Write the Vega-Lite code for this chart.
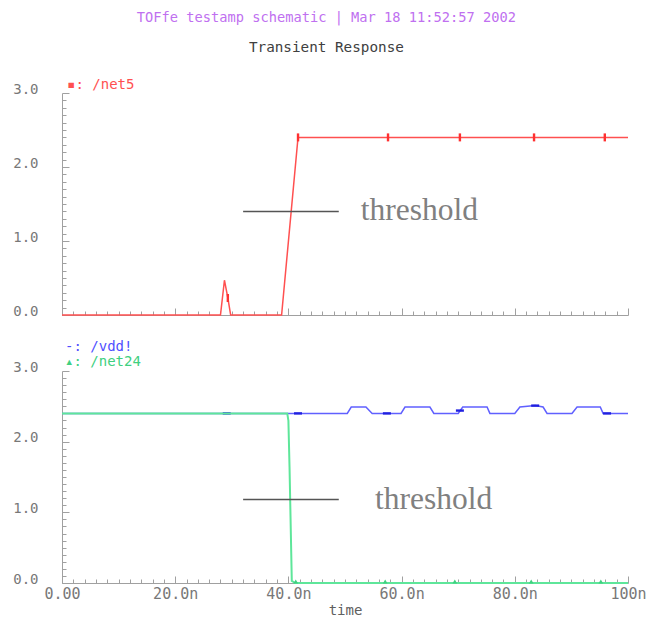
{
  "$schema": "https://vega.github.io/schema/vega-lite/v6.json",
  "background": "white",
  "padding": {"left": 12, "top": 11, "right": 5, "bottom": 2},
  "config": {
    "view": {"stroke": null},
    "axis": {
      "grid": false,
      "domainColor": "#a0a0a0",
      "tickColor": "#a0a0a0",
      "labelColor": "#787878",
      "labelFont": "DejaVu Sans Mono",
      "labelFontSize": 14,
      "labelOverlap": false,
      "labelBound": false,
      "labelFlush": false,
      "titleFont": "DejaVu Sans Mono",
      "titleFontWeight": "normal",
      "titleFontSize": 14,
      "titleColor": "#606060"
    }
  },
  "title": {
    "text": "TOFfe testamp schematic | Mar 18 11:52:57 2002",
    "subtitle": "Transient Response",
    "color": "#c070f0",
    "font": "DejaVu Sans Mono",
    "fontSize": 13.7,
    "fontWeight": "normal",
    "subtitleFont": "DejaVu Sans Mono",
    "subtitleFontSize": 14.3,
    "subtitleColor": "#404040",
    "subtitlePadding": 16,
    "anchor": "middle",
    "dx": -3,
    "offset": 23
  },
  "datasets": {
    "net5": [
      {"t": 0, "v": 0}, {"t": 28.0, "v": 0}, {"t": 28.7, "v": 0.47}, {"t": 29.3, "v": 0.23},
      {"t": 29.8, "v": 0}, {"t": 38.8, "v": 0}, {"t": 41.7, "v": 2.4}, {"t": 100, "v": 2.4}
    ],
    "net5_marks": [
      {"t": 29.3, "v": 0.23}, {"t": 41.7, "v": 2.4}, {"t": 57.6, "v": 2.4},
      {"t": 70.3, "v": 2.4}, {"t": 83.4, "v": 2.4}, {"t": 95.9, "v": 2.4}
    ],
    "vdd": [
      {"t": 0, "v": 2.4}, {"t": 50.4, "v": 2.4}, {"t": 51.1, "v": 2.49}, {"t": 53.7, "v": 2.49}, {"t": 54.8, "v": 2.4},
      {"t": 59.9, "v": 2.4}, {"t": 60.6, "v": 2.49}, {"t": 65.0, "v": 2.49}, {"t": 65.7, "v": 2.4},
      {"t": 70.0, "v": 2.4}, {"t": 70.8, "v": 2.49}, {"t": 75.1, "v": 2.49}, {"t": 75.6, "v": 2.4},
      {"t": 80.0, "v": 2.4}, {"t": 80.9, "v": 2.49}, {"t": 83.6, "v": 2.51}, {"t": 85.0, "v": 2.49}, {"t": 85.7, "v": 2.4},
      {"t": 90.1, "v": 2.4}, {"t": 91.0, "v": 2.49}, {"t": 95.1, "v": 2.49}, {"t": 95.6, "v": 2.4},
      {"t": 100, "v": 2.4}
    ],
    "vdd_marks": [
      {"t": 29.1, "v": 2.4}, {"t": 41.7, "v": 2.4}, {"t": 57.4, "v": 2.4},
      {"t": 70.3, "v": 2.44}, {"t": 83.6, "v": 2.51}, {"t": 96.3, "v": 2.4}
    ],
    "net24": [
      {"t": 0, "v": 2.4}, {"t": 39.8, "v": 2.4}, {"t": 40.0, "v": 2.3}, {"t": 40.2, "v": 1.64},
      {"t": 40.6, "v": 0.03}, {"t": 41.2, "v": 0}, {"t": 100, "v": 0}
    ],
    "net24_marks": [
      {"t": 41.3, "v": 0.02}, {"t": 57.1, "v": 0.02}, {"t": 69.4, "v": 0.02},
      {"t": 82.9, "v": 0.02}, {"t": 95.2, "v": 0.02}
    ],
    "thr_top": [{"t1": 32.0, "t2": 48.9, "v": 1.4, "tx": 52.8, "label": "threshold"}],
    "thr_bot": [{"t1": 32.0, "t2": 48.9, "v": 1.18, "tx": 55.3, "label": "threshold"}]
  },
  "spacing": 22,
  "vconcat": [
    {
      "width": 566,
      "height": 222,
      "title": {
        "text": "▪: /net5",
        "color": "#ff5050",
        "font": "DejaVu Sans Mono",
        "fontSize": 14,
        "fontWeight": "normal",
        "anchor": "start",
        "frame": "group",
        "dx": 5,
        "offset": -10
      },
      "resolve": {"axis": {"x": "independent", "y": "independent"}},
      "layer": [
        {
          "data": {"name": "net5"},
          "mark": {"type": "line", "color": "#ff5050", "strokeWidth": 1.5},
          "encoding": {
            "x": {
              "field": "t", "type": "quantitative",
              "scale": {"domain": [0, 100], "nice": false, "zero": false},
              "axis": {
                "orient": "bottom",
                "title": null,
                "labels": false,
                "values": [0, 20, 40, 60, 80, 100],
                "tickSize": -7
              }
            },
            "y": {
              "field": "v", "type": "quantitative",
              "scale": {"domain": [0, 3], "nice": false},
              "axis": {
                "orient": "left",
                "title": null,
                "values": [0, 1, 2, 3],
                "format": ".1f",
                "tickSize": -7,
                "labelPadding": 31,
                "labelOffset": -4
              }
            }
          }
        },
        {
          "data": {"name": "net5_marks"},
          "mark": {"type": "point", "shape": "M-0.3,-1H0.3V1H-0.3Z", "size": 64, "filled": true, "color": "#ff3030", "opacity": 1},
          "encoding": {
            "x": {
              "field": "t", "type": "quantitative",
              "axis": {
                "orient": "bottom", "title": null, "labels": false, "domain": false, "tickSize": -4,
                "values": [2,4,6,8,10,12,14,16,18,22,24,26,28,30,32,34,36,38,42,44,46,48,50,52,54,56,58,62,64,66,68,70,72,74,76,78,82,84,86,88,90,92,94,96,98]
              }
            },
            "y": {
              "field": "v", "type": "quantitative",
              "axis": {
                "orient": "left", "title": null, "labels": false, "domain": false, "tickSize": -4,
                "values": [0.1,0.2,0.3,0.4,0.5,0.6,0.7,0.8,0.9,1.1,1.2,1.3,1.4,1.5,1.6,1.7,1.8,1.9,2.1,2.2,2.3,2.4,2.5,2.6,2.7,2.8,2.9]
              }
            }
          }
        },
        {
          "data": {"name": "thr_top"},
          "mark": {"type": "rule", "color": "#555555", "strokeWidth": 1.5},
          "encoding": {
            "x": {"field": "t1", "type": "quantitative", "axis": null},
            "x2": {"field": "t2"},
            "y": {"field": "v", "type": "quantitative", "axis": null}
          }
        },
        {
          "data": {"name": "thr_top"},
          "mark": {"type": "text", "font": "Liberation Serif", "fontSize": 31.5, "color": "#808080", "align": "left", "baseline": "middle"},
          "encoding": {
            "x": {"field": "tx", "type": "quantitative", "axis": null},
            "y": {"field": "v", "type": "quantitative", "axis": null},
            "text": {"field": "label"}
          }
        }
      ]
    },
    {
      "width": 566,
      "height": 212,
      "title": {
        "text": "-: /vdd!",
        "subtitle": "▴: /net24",
        "color": "#5050ff",
        "subtitleColor": "#40d080",
        "font": "DejaVu Sans Mono",
        "subtitleFont": "DejaVu Sans Mono",
        "fontSize": 14,
        "subtitleFontSize": 14,
        "fontWeight": "normal",
        "subtitlePadding": 1,
        "anchor": "start",
        "frame": "group",
        "dx": 3,
        "offset": -9
      },
      "resolve": {"axis": {"x": "independent", "y": "independent"}},
      "layer": [
        {
          "data": {"name": "vdd"},
          "mark": {"type": "line", "color": "#6060ff", "strokeWidth": 1.5},
          "encoding": {
            "x": {
              "field": "t", "type": "quantitative",
              "scale": {"domain": [0, 100], "nice": false, "zero": false},
              "axis": {
                "orient": "bottom",
                "title": "time",
                "titlePadding": 2,
                "labelFontSize": 15,
                "values": [0, 20, 40, 60, 80, 100],
                "labelExpr": "datum.value === 0 ? '0.00' : datum.value === 100 ? '100n' : format(datum.value, '.1f') + 'n'",
                "tickSize": -7,
                "labelPadding": 10
              }
            },
            "y": {
              "field": "v", "type": "quantitative",
              "scale": {"domain": [0, 3], "nice": false},
              "axis": {
                "orient": "left",
                "title": null,
                "values": [0, 1, 2, 3],
                "format": ".1f",
                "tickSize": -7,
                "labelPadding": 31,
                "labelOffset": -4
              }
            }
          }
        },
        {
          "data": {"name": "vdd_marks"},
          "mark": {"type": "point", "shape": "M-1,-0.3H1V0.3H-1Z", "size": 64, "filled": true, "color": "#2020e0", "opacity": 1},
          "encoding": {
            "x": {
              "field": "t", "type": "quantitative",
              "axis": {
                "orient": "bottom", "title": null, "labels": false, "domain": false, "tickSize": -4,
                "values": [2,4,6,8,10,12,14,16,18,22,24,26,28,30,32,34,36,38,42,44,46,48,50,52,54,56,58,62,64,66,68,70,72,74,76,78,82,84,86,88,90,92,94,96,98]
              }
            },
            "y": {
              "field": "v", "type": "quantitative",
              "axis": {
                "orient": "left", "title": null, "labels": false, "domain": false, "tickSize": -4,
                "values": [0.1,0.2,0.3,0.4,0.5,0.6,0.7,0.8,0.9,1.1,1.2,1.3,1.4,1.5,1.6,1.7,1.8,1.9,2.1,2.2,2.3,2.4,2.5,2.6,2.7,2.8,2.9]
              }
            }
          }
        },
        {
          "data": {"name": "net24"},
          "mark": {"type": "line", "color": "#5ee69a", "strokeWidth": 2},
          "encoding": {
            "x": {"field": "t", "type": "quantitative", "axis": null},
            "y": {"field": "v", "type": "quantitative", "axis": null}
          }
        },
        {
          "data": {"name": "net24_marks"},
          "mark": {"type": "point", "shape": "triangle-up", "size": 22, "filled": true, "color": "#40d080", "opacity": 1},
          "encoding": {
            "x": {"field": "t", "type": "quantitative", "axis": null},
            "y": {"field": "v", "type": "quantitative", "axis": null}
          }
        },
        {
          "data": {"name": "thr_bot"},
          "mark": {"type": "rule", "color": "#555555", "strokeWidth": 1.5},
          "encoding": {
            "x": {"field": "t1", "type": "quantitative", "axis": null},
            "x2": {"field": "t2"},
            "y": {"field": "v", "type": "quantitative", "axis": null}
          }
        },
        {
          "data": {"name": "thr_bot"},
          "mark": {"type": "text", "font": "Liberation Serif", "fontSize": 31.5, "color": "#808080", "align": "left", "baseline": "middle"},
          "encoding": {
            "x": {"field": "tx", "type": "quantitative", "axis": null},
            "y": {"field": "v", "type": "quantitative", "axis": null},
            "text": {"field": "label"}
          }
        }
      ]
    }
  ]
}
